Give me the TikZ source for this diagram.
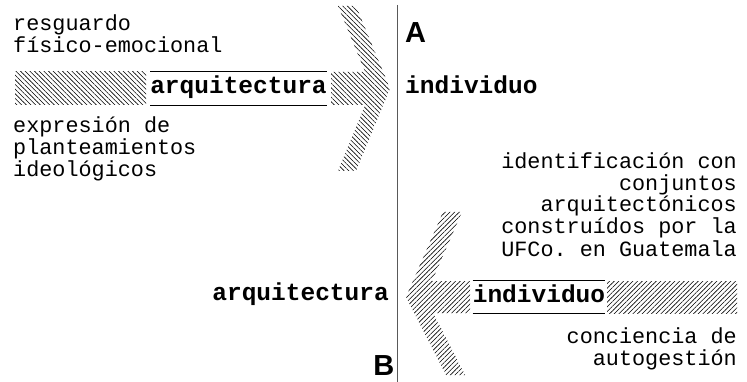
\documentclass[tikz,border=0pt]{standalone}
\usepackage{fontspec}
\setmonofont{Liberation Mono}
\newfontfamily\letterfont{Liberation Sans}
\usetikzlibrary{patterns.meta}

\begin{document}
\begin{tikzpicture}[
        x=1pt, y=-1pt,
        % texto normal
        txt/.style={
            font=\ttfamily\fontsize{21.8}{22}\selectfont,
            inner sep=0pt
        },
        % palabra clave en negrita, entre dos reglas
        keyword/.style={
            font=\ttfamily\bfseries\fontsize{24.5}{24.5}\selectfont,
            inner sep=0pt,
            text height=15pt,
            text depth=5pt,
            minimum height=33pt
        },
        % letras A y B
        letter/.style={
            font=\letterfont\bfseries\fontsize{29}{29}\selectfont,
            inner sep=0pt
        },
        % rayado de las flechas
        hatchA/.style={pattern={Lines[angle=-45, distance=3.3pt, line width=0.6pt]}},
        hatchB/.style={pattern={Lines[angle=45, distance=3.3pt, line width=0.6pt]}},
        rule/.style={line width=0.8pt}
    ]
    \useasboundingbox (0,0) rectangle (747,382);

    % eje vertical
    \coordinate (axis_top) at (397,5);
    \coordinate (axis_bot) at (397,382);
    \draw[line width=1pt, black!65] (axis_top) -- (axis_bot);

    % 1. bloque A (arriba)
    \node[letter, anchor=base west] (labelA) at (405,43) {A};
    \node[txt, anchor=base west, align=left] (resguardo) at (13,53) {resguardo\\físico-emocional};
    \node[txt, anchor=base west, align=left] (expresion) at (13,177) {expresión de\\planteamientos\\ideológicos};
    \node[keyword, minimum width=173pt] (arqA) at (238.5,88.5) {arquitectura};
    \draw[rule] (arqA.north west) -- (arqA.north east);
    \draw[rule] (arqA.south west) -- (arqA.south east);
    \node[keyword, anchor=base west, minimum height=0pt] (indA) at (405,94) {individuo};

    % flecha rayada hacia la derecha
    \fill[hatchA] (15,72) rectangle (146,105);
    \fill[hatchA] (331,72) -- (365.2,72) -- (338,6) -- (356,6) -- (390,88.5)
        -- (356,171) -- (338,171) -- (365.2,105) -- (331,105) -- cycle;

    % 2. bloque B (abajo)
    \node[letter, anchor=base east] (labelB) at (394.5,375) {B};
    \node[txt, anchor=base east, align=right] (identif) at (737,256)
        {identificación con\\conjuntos\\arquitectónicos\\construídos por la\\UFCo. en Guatemala};
    \node[txt, anchor=base east, align=right] (conciencia) at (737,365) {conciencia de\\autogestión};
    \node[keyword, minimum width=132pt] (indB) at (539,297) {individuo};
    \draw[rule] (indB.north west) -- (indB.north east);
    \draw[rule] (indB.south west) -- (indB.south east);
    \node[keyword, anchor=base east, minimum height=0pt] (arqB) at (389,300) {arquitectura};

    % flecha rayada hacia la izquierda
    \fill[hatchB] (607,281) rectangle (737,313);
    \fill[hatchB] (470,281) -- (432,281) -- (462,212) -- (443,212) -- (406,297)
        -- (446,375) -- (465,375) -- (433.2,313) -- (470,313) -- cycle;

\end{tikzpicture}
\end{document}
